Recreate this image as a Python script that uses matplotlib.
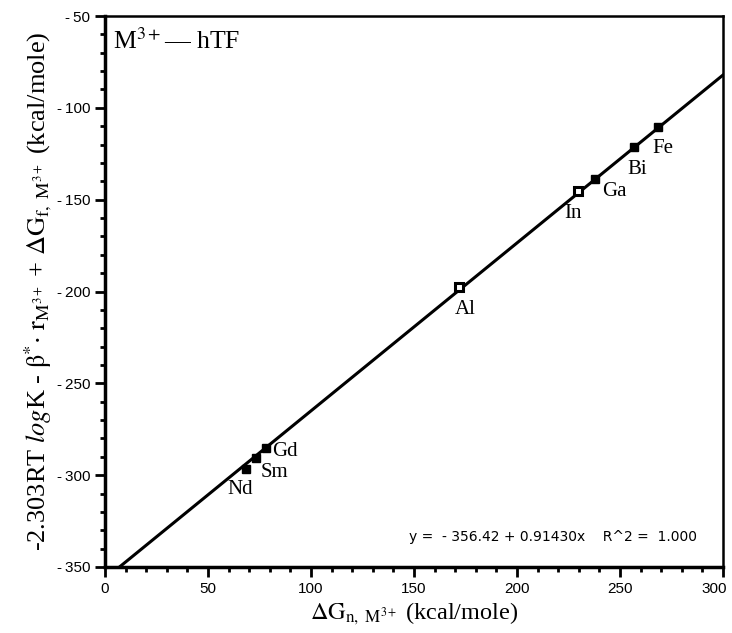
import matplotlib.pyplot as plt
import numpy as np
from matplotlib.ticker import MultipleLocator, FuncFormatter

plt.rcParams['mathtext.fontset'] = 'stix'
plt.rcParams['axes.unicode_minus'] = False

# metal ions: dG_n (x) and left-hand side (y)
metals = ['Nd', 'Sm', 'Gd', 'Al', 'In', 'Ga', 'Bi', 'Fe']
dGn = [68.4, 73.3, 78.0, 171.8, 229.8, 237.9, 256.8, 268.6]
lhs = [-296.6, -290.4, -285.0, -197.7, -145.4, -138.9, -121.3, -110.6]
hollow = ['Al', 'In']

# fitted line from the chart
intercept, slope = -356.42, 0.91430
fit_x = [7.0, 300.0]

# label offsets in points (dx, dy)
offsets = {'Nd': (-13, -15), 'Sm': (3, -11), 'Gd': (5, -3), 'Al': (-3, -16),
           'In': (-10, -16), 'Ga': (5, -9), 'Bi': (-5, -16), 'Fe': (-4, -15)}

fig = plt.figure(figsize=(7.32, 6.33), dpi=100)
ax = fig.add_axes([105/732, 1-567/633, 618/732, 551/633])

xx = np.array(fit_x)
ax.plot(xx, intercept + slope*xx, color='black', lw=2.2)

for m, x, y in zip(metals, dGn, lhs):
    fc = 'white' if m in hollow else 'black'
    ax.plot(x, y, 's', ms=5.5, mfc=fc, mec='black', mew=2.2 if m in hollow else 1,
            zorder=3)
    dx, dy = offsets[m]
    ax.annotate(m, (x, y), xytext=(dx, dy), textcoords='offset points',
                fontfamily='Liberation Serif', fontsize=15, va='center', ha='left')

def spaced(v, pos):
    s = '%d' % abs(v)
    return ('-\u2009' + s) if v < 0 else s

def xfmt(v, pos):
    # the 300 label sits at the picture edge, drawn separately below
    return '' if v >= 300 else spaced(v, pos)

ax.set_xlim(0, 300)
ax.set_ylim(-350, -50)
ax.xaxis.set_major_locator(MultipleLocator(50))
ax.xaxis.set_minor_locator(MultipleLocator(10))
ax.yaxis.set_major_locator(MultipleLocator(50))
ax.yaxis.set_minor_locator(MultipleLocator(10))
ax.xaxis.set_major_formatter(FuncFormatter(xfmt))
ax.yaxis.set_major_formatter(FuncFormatter(spaced))
ax.tick_params(which='major', direction='out', length=7, width=2, labelsize=11)
ax.tick_params(which='minor', direction='out', length=3.5, width=2)
for lab in ax.get_xticklabels() + ax.get_yticklabels():
    lab.set_fontfamily('Liberation Sans')
ax.annotate('300', (300, -350), xytext=(-6, -10.5), textcoords='offset points',
            ha='center', va='top', fontfamily='Liberation Sans', fontsize=11,
            annotation_clip=False)
for s in ['left', 'bottom']:
    ax.spines[s].set_linewidth(2.5)
for s in ['top', 'right']:
    ax.spines[s].set_linewidth(1.8)

ax.set_xlabel(r'$\mathrm{\Delta G_{n,\ M^{3+}}}$ (kcal/mole)',
              fontfamily='Liberation Serif', fontsize=17.5, labelpad=4)
ax.set_ylabel(r'-2.303RT $\mathit{log}$K - $\mathrm{\beta^{*}}$$\cdot$ $\mathrm{r_{M^{3+}}}$ + '
              r'$\mathrm{\Delta G_{f,\ M^{3+}}}$ (kcal/mole)',
              fontfamily='Liberation Serif', fontsize=19, labelpad=2)

ax.text(0.013, 0.978, r'M$^{3+}$— hTF', transform=ax.transAxes,
        fontfamily='Liberation Serif', fontsize=18.5, va='top', ha='left')
ax.text(0.958, 0.055, 'y =  - 356.42 + 0.91430x    R^2 =  1.000', transform=ax.transAxes,
        fontfamily='DejaVu Sans', fontsize=10, ha='right', va='center')

fig.savefig('out.png', dpi=100)
